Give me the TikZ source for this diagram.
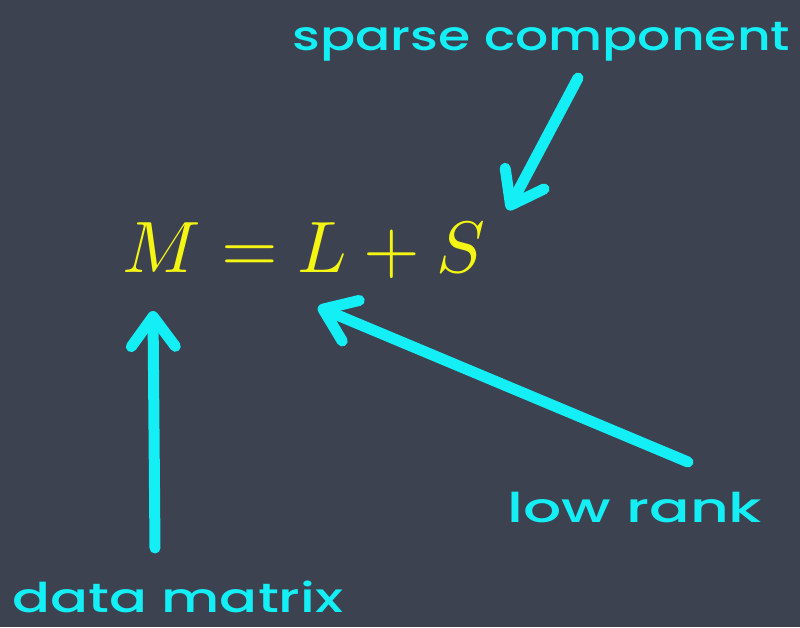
\documentclass[tikz,border=0pt]{standalone}
\usepackage{fontspec}
\usepackage{graphicx}
\newfontfamily\chalkfont{Poppins Medium}
\usetikzlibrary{arrows.meta}
\definecolor{board}{RGB}{60,66,80}
\definecolor{chalk}{RGB}{20,238,245}
\definecolor{eqyellow}{RGB}{245,245,20}
\tikzset{
  chalkline/.style={draw=chalk, line width=11pt, line cap=round, line join=round,
    -{Straight Barb[length=30pt,width=44pt,round]}},
  chalktext/.style={text=chalk, inner sep=0pt, anchor=base west, font=\chalkfont},
}
\begin{document}
\begin{tikzpicture}[x=1pt,y=-1pt]
\fill[board] (0,0) rectangle (800,627);
\useasboundingbox (0,0) rectangle (800,627);
% equation
\node[text=eqyellow, inner sep=0pt, anchor=base west] (eq) at (122,272)
  {\resizebox{363pt}{!}{$M=L+S$}};
% labels
\node[chalktext] (sc) at (292,50)
  {\resizebox{498pt}{\height}{\fontsize{41}{41}\selectfont sparse component}};
\node[chalktext] (lr) at (507,522)
  {\resizebox{255pt}{\height}{\fontsize{41}{41}\selectfont low rank}};
\node[chalktext] (dm) at (12,612)
  {\resizebox{331pt}{\height}{\fontsize{41}{41}\selectfont data matrix}};
% arrow ends
\coordinate (scTail) at (578,78);
\coordinate (sTip) at (508,210);
\coordinate (lrTail) at (688,462);
\coordinate (lTip) at (318,307);
\coordinate (dmTail) at (155,548);
\coordinate (mTip) at (153,311);
\draw[chalkline] (scTail) -- (sTip);
\draw[chalkline] (lrTail) -- (lTip);
\draw[chalkline] (dmTail) -- (mTip);
\end{tikzpicture}
\end{document}
